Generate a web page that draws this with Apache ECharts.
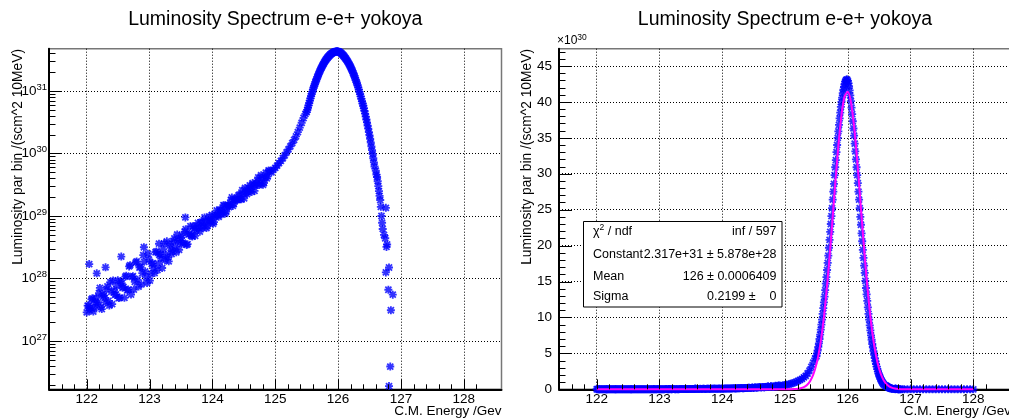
<!DOCTYPE html>
<html>
<head>
<meta charset="utf-8">
<script src="https://cdn.jsdelivr.net/npm/echarts@6/dist/echarts.min.js"></script>
<style>
  html, body { margin: 0; padding: 0; background: #ffffff; }
  #chart { width: 1009px; height: 419px; }
</style>
</head>
<body>
<div id="chart"></div>
<script>
// Beamstrahlung luminosity spectrum (yokoya), drawn twice: log scale (left) and linear with a Gaussian fit (right).
// Luminosity values are per 10 MeV bin, in units of 1e30 /(s cm^2).
const UNIT_EXP = 30;

const TITLE = 'Luminosity Spectrum e-e+ yokoya';
const X_TITLE = 'C.M. Energy /Gev';
const Y_TITLE = 'Luminosity par bin /(scm^2 10MeV)';

// low-energy tail, 122 - 125.5 GeV
const energyLow = [
  122.00,122.03,122.06,122.09,122.12,122.15,122.18,122.21,122.24,122.27,
  122.30,122.33,122.36,122.39,122.42,122.45,122.48,122.51,122.54,122.57,
  122.60,122.63,122.66,122.69,122.72,122.75,122.78,122.81,122.84,122.87,
  122.90,122.93,122.96,122.99,123.02,123.05,123.08,123.11,123.14,123.17,
  123.20,123.23,123.26,123.29,123.32,123.35,123.38,123.41,123.44,123.47,
  123.50,123.53,123.56,123.59,123.62,123.65,123.68,123.71,123.74,123.77,
  123.80,123.83,123.86,123.89,123.92,123.95,123.98,124.01,124.04,124.07,
  124.10,124.13,124.16,124.19,124.22,124.25,124.28,124.31,124.34,124.37,
  124.40,124.43,124.46,124.49,124.52,124.55,124.58,124.61,124.64,124.67,
  124.70,124.73,124.76,124.79,124.82,124.85,124.88,124.91,124.94,124.97,
  125.00,125.03,125.06,125.09,125.12,125.15,125.18,125.21,125.24,125.27,
  125.30,125.33,125.36,125.39,125.42,125.45,125.48
];
const lumiLow = [
  0.00286,0.00364,0.00333,0.00482,0.00338,0.0049,0.00418,0.00706,0.00324,0.00525,
  0.00413,0.0075,0.00369,0.00612,0.00929,0.00546,0.00755,0.00485,0.009,0.00711,
  0.0049,0.0111,0.00664,0.0163,0.0106,0.00664,0.018,0.00955,0.015,0.00807,
  0.0236,0.013,0.00847,0.0201,0.0119,0.0176,0.0122,0.027,0.0172,0.0246,
  0.0147,0.0365,0.0243,0.0217,0.0356,0.0246,0.0393,0.0324,0.0505,0.0288,
  0.0442,0.0375,0.0561,0.0344,0.0506,0.0686,0.0468,0.0627,0.0589,0.0773,
  0.0561,0.0805,0.0697,0.0838,0.0687,0.0989,0.0857,0.0748,0.0982,0.123,
  0.0968,0.126,0.1135,0.147,0.1175,0.152,0.149,0.198,0.155,0.184,
  0.18,0.22,0.185,0.228,0.281,0.224,0.277,0.269,0.336,0.252,
  0.329,0.414,0.334,0.404,0.337,0.492,0.431,0.524,0.50,0.55,
  0.59,0.64,0.70,0.76,0.84,0.93,1.04,1.16,1.30,1.46,
  1.65,1.88,2.2,2.6,3.1,3.7,4.3
];

// second set of entries in the low-energy tail
const energyLowB = [
  122.015,122.045,122.075,122.105,122.135,122.165,122.195,122.225,122.255,122.285,
  122.315,122.345,122.375,122.405,122.435,122.465,122.495,122.525,122.555,122.585,
  122.615,122.645,122.675,122.705,122.735,122.765,122.795,122.825,122.855,122.885,
  122.915,122.945,122.975,123.005,123.035,123.065,123.095,123.125,123.155,123.185,
  123.215,123.245,123.275,123.305,123.335,123.365,123.395,123.425,123.455,123.485,
  123.515,123.545,123.575,123.605,123.635,123.665,123.695,123.725,123.755,123.785,
  123.815,123.845,123.875,123.905,123.935,123.965,123.995,124.025,124.055,124.085,
  124.115,124.145,124.175,124.205,124.235,124.265,124.295,124.325,124.355,124.385,
  124.415,124.445,124.475,124.505,124.535,124.565,124.595,124.625,124.655,124.685,
  124.715,124.745,124.775,124.805,124.835,124.865,124.895
];
const lumiLowB = [
  0.00368,0.00311,0.00463,0.00296,0.00417,0.00381,0.00581,0.00349,0.0056,0.00488,
  0.0067,0.00437,0.00873,0.00389,0.00649,0.00556,0.00933,0.00494,0.00845,0.0073,
  0.0107,0.00647,0.0156,0.00553,0.0109,0.00887,0.0187,0.00743,0.0153,0.0122,
  0.0185,0.0105,0.0249,0.00927,0.0171,0.0146,0.0263,0.0136,0.0239,0.0208,
  0.0294,0.0196,0.0393,0.0188,0.0308,0.0275,0.0436,0.0263,0.041,0.0371,
  0.0488,0.036,0.0614,0.0354,0.0519,0.0483,0.0689,0.0482,0.0676,0.0638,
  0.0787,0.0646,0.0948,0.0643,0.0846,0.0804,0.1045,0.08,0.1054,0.1023,
  0.123,0.1057,0.149,0.1096,0.142,0.139,0.179,0.145,0.185,0.182,
  0.214,0.187,0.258,0.191,0.246,0.239,0.309,0.243,0.317,0.307,
  0.369,0.312,0.449,0.315,0.417,0.4,0.535
];

// isolated high points in the low-energy tail
const energyStray = [122.04, 122.16, 122.30, 122.55, 122.91, 123.15, 123.57];
const lumiStray   = [0.017, 0.0121, 0.0151, 0.0224, 0.0316, 0.036, 0.095];

// peak region, 10 MeV bins
const energyPeak = [
  125.50,125.51,125.52,125.53,125.54,125.55,125.56,125.57,125.58,125.59,
  125.60,125.61,125.62,125.63,125.64,125.65,125.66,125.67,125.68,125.69,
  125.70,125.71,125.72,125.73,125.74,125.75,125.76,125.77,125.78,125.79,
  125.80,125.81,125.82,125.83,125.84,125.85,125.86,125.87,125.88,125.89,
  125.90,125.91,125.92,125.93,125.94,125.95,125.96,125.97,125.98,125.99,
  126.00,126.01,126.02,126.03,126.04,126.05,126.06,126.07,126.08,126.09,
  126.10,126.11,126.12,126.13,126.14,126.15,126.16,126.17,126.18,126.19,
  126.20,126.21,126.22,126.23,126.24,126.25,126.26,126.27,126.28,126.29,
  126.30,126.31,126.32,126.33,126.34,126.35,126.36,126.37,126.38,126.39,
  126.40,126.41,126.42,126.43,126.44,126.45,126.46,126.47,126.48,126.49,
  126.50,126.51,126.52,126.53,126.54,126.55
];
const lumiPeak = [
  4.6,5.0,5.4,5.9,6.4,7.0,7.6,8.3,9.0,9.7,
  10.5,11.3,12.1,12.9,13.8,14.7,15.6,16.6,17.6,18.6,
  19.7,20.8,21.9,23.0,24.1,25.2,26.4,27.5,28.6,29.8,
  30.9,31.9,33.0,34.0,35.0,35.9,36.8,37.7,38.5,39.3,
  40.0,40.6,41.2,41.7,42.1,42.5,42.8,43.0,43.1,43.1,
  42.9,42.6,42.2,41.6,40.9,40.1,39.2,38.3,37.3,36.3,
  35.3,34.2,33.1,32.0,30.9,29.8,28.7,27.5,26.4,25.2,
  24.0,22.9,21.7,20.6,19.4,18.3,17.2,16.2,15.1,14.1,
  13.2,12.3,11.4,10.5,9.7,8.9,8.2,7.5,6.9,6.3,
  5.8,5.3,4.8,4.35,3.9,3.5,3.15,2.8,2.5,2.2,
  1.95,1.72,1.5,1.3,1.13,0.98
];

// high-energy edge
const energyEdge = [
  126.56,126.57,126.58,126.60,126.61,126.62,126.63,126.64,126.65,126.66,
  126.67,126.68,126.69,126.70,126.71,126.73,126.75,126.76,126.76,126.77,
  126.78,126.80,126.81,126.81,126.83,126.84,126.87
];
const lumiEdge = [
  0.84,0.72,0.62,0.53,0.46,0.42,0.36,0.30,0.25,0.21,
  0.18,0.14,0.10,0.078,0.062,0.050,0.044,0.135,0.0125,0.032,
  0.035,0.0066,0.015,0.00019,0.00039,0.0031,0.0055
];

// empty bins above the kinematic edge
const energyEmpty = [
  126.90,126.95,127.00,127.05,127.10,127.15,127.20,127.25,127.30,127.35,127.40,127.45,
  127.50,127.55,127.60,127.65,127.70,127.75,127.80,127.85,127.90,127.95,128.00
];
const lumiEmpty = [0,0,0,0,0,0,0,0,0,0,0,0,0,0,0,0,0,0,0,0,0,0,0];

// Gaussian fit curve
const fitEnergy = [
  122.0,124.9,125.00,125.05,125.10,125.15,125.20,125.25,125.30,125.35,125.40,125.45,
  125.50,125.55,125.60,125.65,125.70,125.75,125.80,125.85,125.90,125.95,
  126.00,126.05,126.10,126.15,126.20,126.25,126.30,126.35,126.40,126.45,
  126.50,126.55,126.60,126.65,126.70,126.75,126.80,126.85,126.90,127.0,128.0
];
const fitLumi = [
  0,0.001,0.002,0.005,0.011,0.028,0.066,0.145,0.30,0.60,1.14,2.04,
  3.47,5.6,8.6,12.6,17.4,22.9,28.6,33.9,38.2,40.8,
  41.4,40.0,36.6,31.9,26.3,20.6,15.4,10.9,7.3,4.67,
  2.82,1.63,0.89,0.46,0.23,0.106,0.047,0.02,0.008,0.001,0
];

// fit statistics box
const statNames  = ['χ{sup|2} / ndf', 'Constant', 'Mean', 'Sigma'];
const statValues = ['inf / 597', '2.317e+31 ± 5.878e+28', '126 ± 0.0006409', '0.2199 ±    0'];

const FONT = '"Liberation Sans", Arial, Helvetica, sans-serif';
const BLUE = '#0000ff';
const MAGENTA = '#ff00ff';
// asterisk marker: plus and cross bars
const STAR = 'path://M0,2.7L7,2.7L7,4.3L0,4.3Z M2.7,0L4.3,0L4.3,7L2.7,7Z ' +
             'M0.3,1.4L1.4,0.3L6.7,5.6L5.6,6.7Z M5.6,0.3L6.7,1.4L1.4,6.7L0.3,5.6Z';

const energy = [].concat(energyLow, energyLowB, energyStray, energyPeak, energyEdge, energyEmpty);
const lumi = [].concat(lumiLow, lumiLowB, lumiStray, lumiPeak, lumiEdge, lumiEmpty);
const points = energy.map((e, i) => [e, lumi[i]]);
const logPoints = points.filter(p => p[1] > 0);
const fitPoints = fitEnergy.map((e, i) => [e, fitLumi[i]]);

const X_MIN = 121.4, X_MAX = 128.6;
const LOG_MIN = 1.686e-4, LOG_MAX = 47.5;
const LIN_MAX = 47.4;

// tick marks, all drawn inside the frame: [x, y, length, 0 = vertical / 1 = horizontal]
function energyTicks(yBase) {
  const t = [];
  for (let i = 3; i <= 36; i++) {
    const e = Math.round((121.0 + i * 0.2) * 10) / 10;
    const major = i % 5 === 0;
    t.push([e, yBase, major ? 10 : 5, 0]);
  }
  return t;
}
const ticksLeft = energyTicks(LOG_MIN);
for (let k = -4; k <= 1; k++) {
  for (let m = 1; m <= 9; m++) {
    const v = m * Math.pow(10, k);
    if (v > LOG_MIN && v < LOG_MAX) ticksLeft.push([X_MIN, v, m === 1 ? 13 : 6.5, 1]);
  }
}
const ticksRight = energyTicks(0);
for (let v = 1; v <= 47; v++) ticksRight.push([X_MIN, v, v % 5 === 0 ? 13 : 6.5, 1]);

function tickSeries(idx, data) {
  return {
    type: 'custom', xAxisIndex: idx, yAxisIndex: idx, silent: true, z: 6, clip: false,
    data: data,
    renderItem: (params, api) => {
      const p = api.coord([api.value(0), api.value(1)]);
      const len = api.value(2);
      const horiz = api.value(3) === 1;
      const x = Math.round(p[0]) + 0.5, y = Math.round(p[1]) + 0.5;
      return { type: 'line',
        shape: horiz ? { x1: p[0], y1: y, x2: p[0] + len, y2: y } : { x1: x, y1: p[1], x2: x, y2: p[1] - len },
        style: { stroke: '#000', lineWidth: 1 } };
    }
  };
}

const gridLine = { color: '#000', width: 1, type: [1, 2] };
const labelFont = { color: '#000', fontFamily: FONT, fontSize: 13.5 };

function energyAxis(gi) {
  return {
    type: 'value', gridIndex: gi, min: X_MIN, max: X_MAX,
    axisLine: { show: true, onZero: false, lineStyle: { color: '#000', width: 2 } },
    axisTick: { show: false },
    minorTick: { show: false },
    axisLabel: Object.assign({ margin: 3, showMinLabel: false, showMaxLabel: false }, labelFont),
    splitLine: { show: true, showMinLine: false, showMaxLine: false, lineStyle: gridLine },
    minorSplitLine: { show: false }
  };
}

const gridBase = { show: true, borderColor: '#777', borderWidth: 1.5, backgroundColor: 'transparent',
                   containLabel: false, outerBoundsMode: 'none' };

const option = {
  backgroundColor: '#ffffff',
  animation: false,
  grid: [
    Object.assign({ left: 49, top: 48.7, width: 452.5, height: 340.6 }, gridBase),
    Object.assign({ left: 559, top: 48.7, width: 452, height: 340.6 }, gridBase)
  ],
  xAxis: [energyAxis(0), energyAxis(1)],
  yAxis: [
    {
      type: 'log', logBase: 10, gridIndex: 0, min: LOG_MIN, max: LOG_MAX,
      axisLine: { show: true, lineStyle: { color: '#000', width: 2 } },
      axisTick: { show: false },
      minorTick: { show: false },
      axisLabel: {
        margin: 2, showMinLabel: false, showMaxLabel: false,
        formatter: v => '{b|10}{s|' + (Math.round(Math.log10(v)) + UNIT_EXP) + '}',
        rich: {
          b: { color: '#000', fontFamily: FONT, fontSize: 13.5 },
          s: { color: '#000', fontFamily: FONT, fontSize: 9.5, verticalAlign: 'bottom', padding: [0, 0, 8, 0] }
        }
      },
      splitLine: { show: true, showMinLine: false, showMaxLine: false, lineStyle: gridLine },
      minorSplitLine: { show: false }
    },
    {
      type: 'value', gridIndex: 1, min: 0, max: LIN_MAX, interval: 5,
      axisLine: { show: true, onZero: false, lineStyle: { color: '#000', width: 2 } },
      axisTick: { show: false },
      minorTick: { show: false },
      axisLabel: Object.assign({ margin: 7, showMaxLabel: false }, labelFont),
      splitLine: { show: true, showMinLine: false, showMaxLine: false, lineStyle: gridLine },
      minorSplitLine: { show: false }
    }
  ],
  series: [
    tickSeries(0, ticksLeft),
    tickSeries(1, ticksRight),
    {
      type: 'scatter', xAxisIndex: 0, yAxisIndex: 0, data: logPoints, clip: false,
      symbol: STAR, symbolSize: 8, itemStyle: { color: BLUE }, z: 3, silent: true
    },
    {
      type: 'scatter', xAxisIndex: 1, yAxisIndex: 1, data: points, clip: false,
      symbol: STAR, symbolSize: 8, itemStyle: { color: BLUE }, z: 3, silent: true
    },
    {
      type: 'line', xAxisIndex: 1, yAxisIndex: 1, data: fitPoints, clip: false,
      smooth: 0.25, showSymbol: false, symbol: 'none', z: 4, silent: true,
      lineStyle: { color: MAGENTA, width: 2 }
    }
  ],
  graphic: []
};

const g = option.graphic;
// pad titles
[[275.3, TITLE], [785, TITLE]].forEach(([x, t]) => {
  g.push({ type: 'text', x: x, y: 20, z: 100, silent: true,
    style: { text: t, align: 'center', verticalAlign: 'middle', fill: '#000', font: '19.5px ' + FONT } });
});
// axis titles
[[501.5, 411.5], [1011, 411.5]].forEach(([x, y]) => {
  g.push({ type: 'text', x: x, y: y, z: 100, silent: true,
    style: { text: X_TITLE, align: 'right', verticalAlign: 'middle', fill: '#000', font: '13.5px ' + FONT } });
});
[[18, 49], [527.5, 49]].forEach(([x, y]) => {
  g.push({ type: 'text', x: x, y: y, rotation: Math.PI / 2, z: 100, silent: true,
    style: { text: Y_TITLE, align: 'right', verticalAlign: 'middle', fill: '#000', font: '13.8px ' + FONT } });
});
// exponent of the linear axis
g.push({ type: 'text', x: 557, y: 41, z: 100, silent: true,
  style: { text: '×10{s|' + UNIT_EXP + '}', align: 'left', verticalAlign: 'middle', fill: '#000', font: '12px ' + FONT,
    rich: { s: { fontSize: 8.5, fontFamily: FONT, fill: '#000', verticalAlign: 'bottom', padding: [0, 0, 7, 0] } } } });
// statistics box
const box = { x: 583.5, y: 221.5, w: 198.5, h: 85.5 };
g.push({ type: 'rect', z: 100, silent: true,
  shape: { x: box.x, y: box.y, width: box.w, height: box.h },
  style: { fill: '#ffffff', stroke: '#000', lineWidth: 1 } });
const rowY = [231.5, 255, 277, 297];
statNames.forEach((n, i) => {
  g.push({ type: 'text', x: 593, y: rowY[i], z: 101, silent: true,
    style: { text: n, align: 'left', verticalAlign: 'middle', fill: '#000', font: '12.5px ' + FONT,
      rich: { sup: { fontSize: 8.5, fontFamily: FONT, fill: '#000', verticalAlign: 'bottom', padding: [0, 0, 7, 0] } } } });
  g.push({ type: 'text', x: 776.5, y: rowY[i], z: 101, silent: true,
    style: { text: statValues[i], align: 'right', verticalAlign: 'middle', fill: '#000', font: '12.5px ' + FONT } });
});

const chart = echarts.init(document.getElementById('chart'), null, { renderer: 'canvas' });
chart.setOption(option);
</script>
</body>
</html>
